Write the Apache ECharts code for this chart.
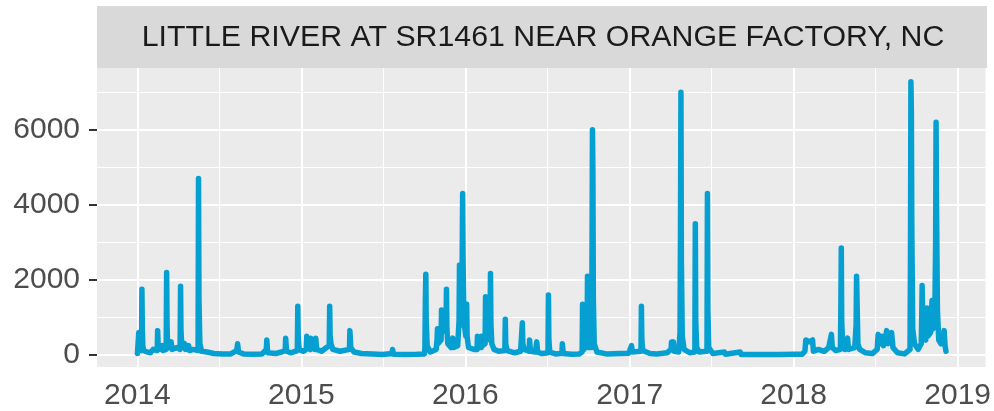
<!DOCTYPE html>
<html>
<head>
<meta charset="utf-8">
<script src="https://cdn.jsdelivr.net/npm/echarts@6/dist/echarts.min.js"></script>
<style>
html,body{margin:0;padding:0;background:#ffffff;}
#chart{width:994px;height:411px;}
</style>
</head>
<body>
<div id="chart"></div>
<script>
// ---- DATA (daily discharge) ----
const stationName = 'LITTLE RIVER AT SR1461 NEAR ORANGE FACTORY, NC';
const yTickValues = [0, 2000, 4000, 6000];
const yMinorValues = [1000, 3000, 5000, 7000];
const xTickYears = ['2014-01-01', '2015-01-01', '2016-01-01', '2017-01-01', '2018-01-01', '2019-01-01'];
const xMinorDates = ['2014-07-02', '2015-07-02', '2016-07-02', '2017-07-02', '2018-07-02'];
const xRange = ['2013-10-03', '2019-03-04'];
const yRange = [-319, 7646];

const flow2014 = [
  ['2014-01-01',40],['2014-01-03',90],['2014-01-04',600],['2014-01-05',150],['2014-01-10',120],
  ['2014-01-11',1750],['2014-01-12',700],['2014-01-13',250],['2014-01-15',120],['2014-01-20',90],
  ['2014-01-30',60],['2014-02-05',150],['2014-02-08',100],['2014-02-14',120],['2014-02-15',650],
  ['2014-02-16',300],['2014-02-18',150],['2014-02-25',250],['2014-02-27',120],['2014-03-06',150],
  ['2014-03-07',2200],['2014-03-08',800],['2014-03-09',300],['2014-03-12',200],['2014-03-17',350],
  ['2014-03-19',150],['2014-03-30',200],['2014-04-06',150],['2014-04-07',1830],['2014-04-08',600],
  ['2014-04-10',250],['2014-04-16',300],['2014-04-18',150],['2014-04-25',250],['2014-04-27',120],
  ['2014-05-05',150],['2014-05-16',120],['2014-05-17',4700],['2014-05-18',1500],['2014-05-20',300],
  ['2014-05-24',100],['2014-06-05',80],['2014-06-20',40],['2014-07-10',25],['2014-07-28',30],
  ['2014-08-10',120],['2014-08-12',300],['2014-08-14',80],['2014-08-25',30],['2014-09-15',20],
  ['2014-10-05',25],['2014-10-15',150],['2014-10-16',400],['2014-10-18',60],['2014-11-05',40],
  ['2014-11-18',80],['2014-11-26',120],['2014-11-27',450],['2014-11-29',100],['2014-12-08',60],
  ['2014-12-23',120],['2014-12-24',1300],['2014-12-25',500],['2014-12-27',150]
];
const flow2015 = [
  ['2015-01-05',100],['2015-01-12',150],['2015-01-13',500],['2015-01-15',200],['2015-01-21',150],
  ['2015-01-22',450],['2015-01-24',180],['2015-02-01',150],['2015-02-02',450],['2015-02-04',150],
  ['2015-02-15',100],['2015-02-26',200],['2015-03-04',250],['2015-03-05',1300],['2015-03-06',500],
  ['2015-03-08',300],['2015-03-12',150],['2015-03-28',100],['2015-04-18',150],['2015-04-19',650],
  ['2015-04-21',200],['2015-04-28',80],['2015-05-15',40],['2015-06-08',30],['2015-06-09',80],
  ['2015-06-11',25],['2015-07-01',15],['2015-07-22',40],['2015-07-23',150],['2015-07-25',20],
  ['2015-08-20',15],['2015-09-15',20],['2015-10-02',30],['2015-10-03',200],['2015-10-04',1400],
  ['2015-10-05',2150],['2015-10-06',900],['2015-10-08',250],['2015-10-15',80],['2015-10-28',150],
  ['2015-10-30',400],['2015-10-31',700],['2015-11-01',300],['2015-11-08',400],['2015-11-09',1200],
  ['2015-11-10',600],['2015-11-19',800],['2015-11-20',1750],['2015-11-21',700],['2015-11-23',300],
  ['2015-11-30',200],['2015-12-03',200],['2015-12-04',450],['2015-12-06',200],['2015-12-15',250],
  ['2015-12-18',900],['2015-12-19',2400],['2015-12-20',1000],['2015-12-24',800],['2015-12-25',2600],
  ['2015-12-26',4300],['2015-12-27',2500],['2015-12-29',900]
];
const flow2016 = [
  ['2016-01-02',500],['2016-01-04',1350],['2016-01-05',500],['2016-01-08',200],['2016-01-20',150],
  ['2016-01-27',150],['2016-01-28',500],['2016-01-30',200],['2016-02-05',200],['2016-02-06',500],
  ['2016-02-08',250],['2016-02-14',300],['2016-02-15',1550],['2016-02-16',600],['2016-02-25',400],
  ['2016-02-26',2175],['2016-02-27',800],['2016-02-29',300],['2016-03-05',150],['2016-03-15',100],
  ['2016-03-29',120],['2016-03-30',950],['2016-03-31',300],['2016-04-03',120],['2016-04-20',60],
  ['2016-05-03',100],['2016-05-06',150],['2016-05-07',860],['2016-05-08',300],['2016-05-11',150],
  ['2016-05-22',100],['2016-05-23',400],['2016-05-25',100],['2016-06-05',80],['2016-06-08',350],
  ['2016-06-10',80],['2016-06-20',40],['2016-07-03',60],['2016-07-04',1600],['2016-07-05',400],
  ['2016-07-07',80],['2016-07-20',30],['2016-08-03',50],['2016-08-04',300],['2016-08-06',40],
  ['2016-08-25',20],['2016-09-10',25],['2016-09-17',80],['2016-09-18',1350],['2016-09-19',400],
  ['2016-09-21',150],['2016-09-28',300],['2016-09-29',2100],['2016-09-30',700],['2016-10-02',200],
  ['2016-10-08',200],['2016-10-09',2500],['2016-10-10',6000],['2016-10-11',4900],['2016-10-12',1500],
  ['2016-10-14',300],['2016-10-20',80],['2016-11-10',30],['2016-12-10',40],['2016-12-30',50]
];
const flow2017 = [
  ['2017-01-03',100],['2017-01-05',250],['2017-01-07',80],['2017-01-26',100],['2017-01-27',1300],
  ['2017-01-28',400],['2017-01-30',120],['2017-02-15',40],['2017-03-02',30],['2017-03-04',80],
  ['2017-03-06',30],['2017-03-25',60],['2017-04-03',150],['2017-04-04',350],['2017-04-06',250],
  ['2017-04-08',350],['2017-04-10',100],['2017-04-20',80],['2017-04-23',600],['2017-04-24',3300],
  ['2017-04-25',7000],['2017-04-26',2500],['2017-04-28',500],['2017-05-02',150],['2017-05-15',60],
  ['2017-05-26',80],['2017-05-27',3500],['2017-05-28',900],['2017-05-30',200],['2017-06-05',80],
  ['2017-06-22',100],['2017-06-23',4300],['2017-06-24',1200],['2017-06-26',200],['2017-07-05',40],
  ['2017-07-31',80],['2017-08-02',20],['2017-09-04',80],['2017-09-06',15],['2017-10-15',12],
  ['2017-12-01',12],['2017-12-31',18]
];
const flow2018 = [
  ['2018-01-20',20],['2018-01-26',100],['2018-01-28',400],['2018-02-05',350],['2018-02-12',400],
  ['2018-02-14',100],['2018-02-25',150],['2018-03-10',100],['2018-03-20',200],['2018-03-26',550],
  ['2018-03-28',200],['2018-04-05',120],['2018-04-15',150],['2018-04-16',1200],['2018-04-17',2850],
  ['2018-04-18',900],['2018-04-20',300],['2018-04-25',150],['2018-05-01',450],['2018-05-03',150],
  ['2018-05-17',200],['2018-05-20',800],['2018-05-21',2100],['2018-05-22',1500],['2018-05-24',300],
  ['2018-05-28',150],['2018-06-10',60],['2018-06-25',40],['2018-07-06',150],['2018-07-08',550],
  ['2018-07-12',300],['2018-07-16',500],['2018-07-20',250],['2018-07-25',500],['2018-07-27',650],
  ['2018-07-30',300],['2018-08-03',450],['2018-08-07',600],['2018-08-10',200],['2018-08-20',60],
  ['2018-09-05',30],['2018-09-17',150],['2018-09-18',2500],['2018-09-19',7280],['2018-09-20',6500],
  ['2018-09-21',3400],['2018-09-23',700],['2018-09-27',300],['2018-10-05',150],['2018-10-12',300],
  ['2018-10-13',1000],['2018-10-14',1850],['2018-10-15',1200],['2018-10-17',500],['2018-10-22',400],
  ['2018-10-25',1250],['2018-10-27',500],['2018-11-02',600],['2018-11-05',1450],['2018-11-07',700],
  ['2018-11-11',800],['2018-11-13',3000],['2018-11-14',6200],['2018-11-15',4000],['2018-11-17',1200],
  ['2018-11-20',400],['2018-11-25',300],['2018-12-02',650],['2018-12-04',250],['2018-12-06',100]
];

// ---- CHART ----
const ts = s => echarts.number.parseDate(s).getTime();
const flowData = [].concat(flow2014, flow2015, flow2016, flow2017, flow2018)
  .map(p => [ts(p[0]), p[1]]);

const majorStyle = {color: '#ffffff', width: 2, type: 'solid', opacity: 1};
const minorStyle = {color: '#ffffff', width: 1, type: 'solid', opacity: 1};
const gridLines = []
  .concat(yMinorValues.map(v => ({yAxis: v, lineStyle: minorStyle})))
  .concat(xMinorDates.map(d => ({xAxis: ts(d), lineStyle: minorStyle})))
  .concat(yTickValues.map(v => ({yAxis: v, lineStyle: majorStyle})))
  .concat(xTickYears.map(d => ({xAxis: ts(d), lineStyle: majorStyle})));

const FONT = 'Liberation Sans, Arial, sans-serif';
const chart = echarts.init(document.getElementById('chart'), null, {renderer: 'canvas'});
chart.setOption({
  animation: false,
  backgroundColor: '#ffffff',
  textStyle: {fontFamily: FONT},
  graphic: [
    {type: 'rect', shape: {x: 97, y: 6, width: 890, height: 62}, style: {fill: '#D9D9D9'}, silent: true},
    {type: 'text', x: 543, y: 38, style: {text: stationName, fill: '#1A1A1A', fontSize: 30.3,
      fontFamily: FONT, align: 'center', verticalAlign: 'middle'}, silent: true}
  ],
  grid: {left: 97, right: 7, top: 68, bottom: 43, show: true, backgroundColor: '#EBEBEB', borderWidth: 0, z: 0},
  xAxis: {
    type: 'value',
    min: ts(xRange[0]), max: ts(xRange[1]),
    axisLine: {show: false},
    splitLine: {show: false},
    axisTick: {show: true, length: 8, lineStyle: {color: '#333333', width: 2}, customValues: xTickYears.map(ts)},
    axisLabel: {show: true, customValues: xTickYears.map(ts), color: '#4D4D4D', fontSize: 30, margin: 14,
      fontFamily: FONT, formatter: v => String(new Date(v).getFullYear())}
  },
  yAxis: {
    type: 'value',
    min: yRange[0], max: yRange[1],
    axisLine: {show: false},
    splitLine: {show: false},
    axisTick: {show: true, length: 8, lineStyle: {color: '#333333', width: 2}, customValues: yTickValues},
    axisLabel: {show: true, customValues: yTickValues, color: '#4D4D4D', fontSize: 30, margin: 17,
      fontFamily: FONT, formatter: v => String(v)}
  },
  series: [
    {
      type: 'line', data: [], z: 1, silent: true,
      markLine: {z: 1, silent: true, symbol: ['none', 'none'], label: {show: false}, animation: false,
        emphasis: {disabled: true}, data: gridLines}
    },
    {
      type: 'line', z: 10, data: flowData, showSymbol: false, symbol: 'none', silent: true,
      sampling: null,
      lineStyle: {color: '#05A0D1', width: 5.5, cap: 'round', join: 'round'}
    }
  ]
});
</script>
</body>
</html>
